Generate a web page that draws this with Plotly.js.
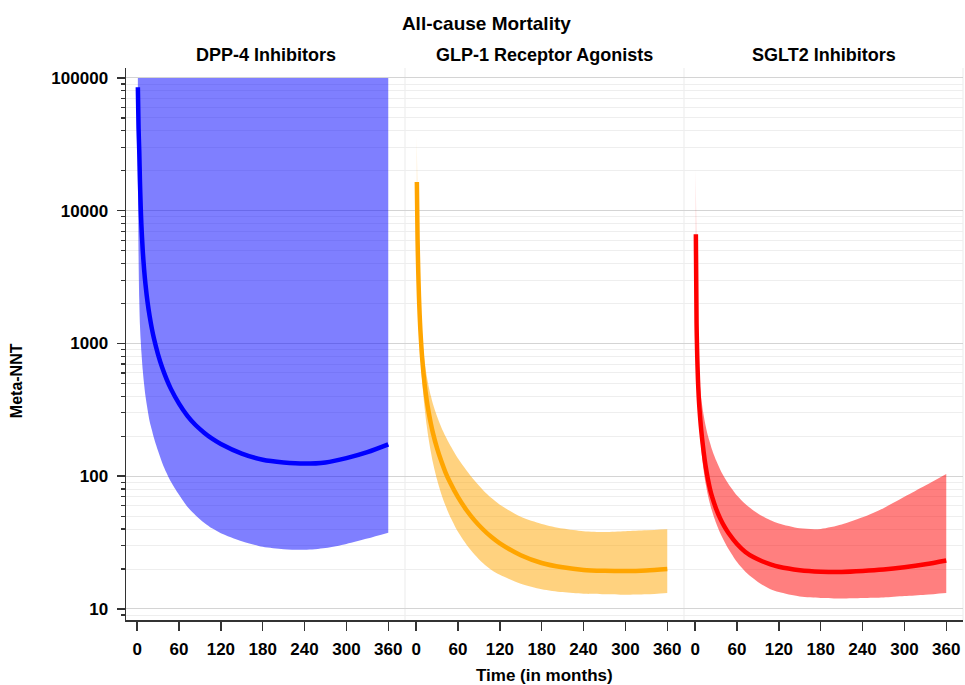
<!DOCTYPE html>
<html>
<head>
<meta charset="utf-8">
<script src="https://cdn.plot.ly/plotly-3.0.1.min.js"></script>
<style>html,body{margin:0;padding:0;background:#fff;}#chart{width:965px;height:685px;}</style>
</head>
<body>
<div id="chart"></div>
<script>
// Time points (months)
const months = [1,2,3,4,5,6,8,10,12,15,18,21,24,30,36,42,48,60,72,84,96,108,120,150,180,210,240,270,300,330,360];

// DPP-4 Inhibitors
const dppNNT   = [85100,41700,28200,16600,10960,7940,5010,3590,2770,2030,1590,1300,1094,824,655,541,459,352,285,242,213,191,175,148,133,127,124.5,127,137,152,174];
const dppLower = [19950,4570,2140,1380,1070,871,631,490,398,316,257,224,195,155,126,106,91.6,72.4,58.9,50.7,44.7,40.3,37.2,32.4,29.4,28.2,27.9,28.8,30.9,33.9,37.5];
const dppUpper = [100000,100000,100000,100000,100000,100000,100000,100000,100000,100000,100000,100000,100000,100000,100000,100000,100000,100000,100000,100000,100000,100000,100000,100000,100000,100000,100000,100000,100000,100000,100000];

// GLP-1 Receptor Agonists
const glpNNT   = [16480,6120,3510,2280,1650,1270,855,635,502,378,302,250,212,162,130,107,91.2,69.5,55.7,46.3,39.7,34.8,31.2,25.4,22.2,20.6,19.7,19.4,19.3,19.5,20.0];
const glpLower = [7080,3160,1905,1350,1047,851,579,426,331,243,189,153,127,94.0,73.6,60.1,50.6,38.1,30.6,25.6,22.1,19.7,18.1,15.5,14.1,13.4,13.0,12.9,12.8,12.9,13.2];
const glpUpper = [35500,8910,4470,3020,2240,1780,1200,912,741,575,473,403,351,282,234,200,174,136,111,92.3,78.5,68.4,61.0,49.5,43.7,40.3,38.5,38.0,38.5,39.1,39.8];

// SGLT2 Inhibitors
const sgltNNT   = [6640,1413,794,537,407,331,243,191,155,119,96.6,81.3,70.8,56.9,47.9,41.7,37.2,30.9,26.9,24.5,22.9,21.7,20.8,19.6,19.1,19.0,19.3,19.8,20.6,21.7,23.2];
const sgltLower = [1995,1096,685,452,332,261,182,138,112,88.1,72.9,62.7,55.1,44.4,37.2,32.1,28.2,22.6,19.1,16.9,15.2,14.1,13.4,12.4,12.1,12.0,12.1,12.2,12.5,12.8,13.2];
const sgltUpper = [20400,2820,1260,851,646,537,417,343,292,240,204,180,160,132,112,97.7,87.1,71.6,61.7,55.0,50.1,46.6,44.0,40.5,40.1,43.2,49.0,57.5,70.0,85.1,104];

// Labels
const panelTitles = ["DPP-4 Inhibitors","GLP-1 Receptor Agonists","SGLT2 Inhibitors"];
const xTicks = [0,60,120,180,240,300,360];
const yTicks = [10,100,1000,10000,100000];
const yTickText = ["10","100","1000","10000","100000"];

const series = [
  {nnt: dppNNT, lo: dppLower, hi: dppUpper, line: "#0000ff", fill: "rgba(0,0,255,0.5)", xa: "x"},
  {nnt: glpNNT, lo: glpLower, hi: glpUpper, line: "#ffa500", fill: "rgba(255,165,0,0.5)", xa: "x2"},
  {nnt: sgltNNT, lo: sgltLower, hi: sgltUpper, line: "#ff0000", fill: "rgba(255,0,0,0.5)", xa: "x3"}
];

const traces = [];
series.forEach(s => {
  traces.push({x: months, y: s.lo, xaxis: s.xa, yaxis: "y", mode: "lines", line: {width: 0, color: s.fill, shape: "spline", smoothing: 0.8}, hoverinfo: "skip", showlegend: false});
  traces.push({x: months, y: s.hi, xaxis: s.xa, yaxis: "y", mode: "lines", fill: "tonexty", fillcolor: s.fill, line: {width: 0, color: s.fill, shape: "spline", smoothing: 0.8}, hoverinfo: "skip", showlegend: false});
  traces.push({x: months, y: s.nnt, xaxis: s.xa, yaxis: "y", mode: "lines", line: {width: 4.5, color: s.line, shape: "spline", smoothing: 0.8}, showlegend: false});
});

const font = {family: "Liberation Sans, Arial, sans-serif", color: "#000"};
const tickFont = {family: font.family, size: 17, color: "#000", weight: "bold"};

function xAxis(domain) {
  return {
    domain: domain, range: [-16, 384], anchor: "y",
    tickmode: "array", tickvals: xTicks, ticktext: xTicks.map(String),
    ticks: "outside", ticklen: 9, tickwidth: 1.5, tickcolor: "#333",
    showline: true, linecolor: "#333", linewidth: 1.5,
    showgrid: false, zeroline: false, tickfont: tickFont, ticklabelstandoff: 4
  };
}

const annotations = panelTitles.map((t, i) => ({
  text: t, xref: "paper", yref: "paper", x: (i + 0.5) / 3, y: 1.0236, xanchor: "center", yanchor: "middle",
  showarrow: false, font: {family: font.family, size: 18, color: "#000", weight: "bold"}
}));
annotations.push({text: "Time (in months)", xref: "paper", yref: "paper", x: 0.5, y: -0.101, xanchor: "center", yanchor: "middle", showarrow: false, font: {family: font.family, size: 17, color: "#000", weight: "bold"}});
annotations.push({text: "Meta-NNT", xref: "paper", yref: "paper", x: -0.130, y: 0.433, xanchor: "center", yanchor: "middle", textangle: -90, showarrow: false, font: {family: font.family, size: 16, color: "#000", weight: "bold"}});

const layout = {
  width: 965, height: 685,
  margin: {l: 126, r: 2, t: 68, b: 65},
  paper_bgcolor: "#fff", plot_bgcolor: "#fff",
  font: font,
  title: {text: "All-cause Mortality", x: 0.504, xref: "container", xanchor: "center", y: 0.966, yref: "container", yanchor: "middle", font: {family: font.family, size: 19, color: "#000", weight: "bold"}},
  xaxis: xAxis([0, 1/3]),
  xaxis2: xAxis([1/3, 2/3]),
  xaxis3: xAxis([2/3, 1]),
  yaxis: {
    type: "log", range: [0.917, 5.075], anchor: "x",
    tickmode: "array", tickvals: yTicks, ticktext: yTickText,
    ticks: "outside", ticklen: 8, tickwidth: 1.5, tickcolor: "#333",
    showline: true, linecolor: "#333", linewidth: 1.5,
    showgrid: true, gridcolor: "#d4d4d4", gridwidth: 1, zeroline: false,
    tickfont: tickFont, ticklabelstandoff: 5,
    minor: {dtick: "D1", ticks: "outside", ticklen: 4, tickwidth: 1.2, tickcolor: "#333", showgrid: true, gridcolor: "#eeeeee", gridwidth: 1}
  },
  shapes: [1/3, 2/3, 1].map(p => ({type: "line", xref: "paper", yref: "paper", x0: p, x1: p, y0: 0, y1: 1, line: {color: "#ebebeb", width: 1}, layer: "below"})),
  annotations: annotations,
  showlegend: false
};

Plotly.newPlot("chart", traces, layout, {displayModeBar: false, staticPlot: true});
</script>
</body>
</html>
